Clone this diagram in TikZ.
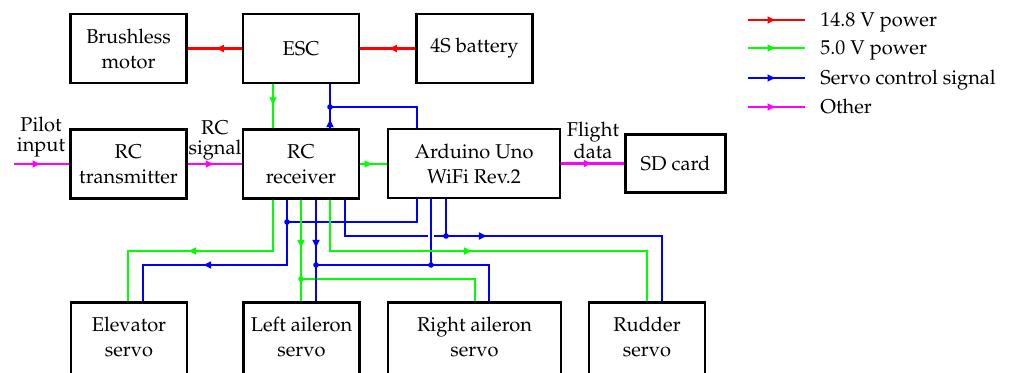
\documentclass[tikz,border=0pt]{standalone}
\usepackage[T1]{fontenc}
\usepackage{mathpazo}
\usetikzlibrary{arrows.meta,decorations.markings}
\definecolor{cred}{RGB}{255,0,0}
\definecolor{cgreen}{RGB}{0,255,0}
\definecolor{cblue}{RGB}{0,0,255}
\definecolor{cmag}{RGB}{255,0,255}
\newcommand{\lowpad}{\rule[-3.5pt]{0pt}{0pt}}
\begin{document}
\begin{tikzpicture}[x=0.5pt,y=-0.5pt,
  box/.style={draw=black,line width=1.45pt,align=center,minimum width=58pt,minimum height=34.5pt,inner sep=2pt,font=\fontsize{10}{12.5}\selectfont},
  servobox/.style={box,minimum height=38pt},
  wire/.style={line width=1.4pt},
  rp/.style={wire,draw=cred},
  gp/.style={wire,draw=cgreen},
  bs/.style={wire,draw=cblue},
  ot/.style={wire,draw=cmag},
  arrowat/.style={postaction={decorate,decoration={markings,mark=at position #1 with {\arrow{Latex[length=4.5pt,width=4pt]}}}}},
  lbl/.style={align=center,inner sep=0pt,font=\fontsize{10}{10}\selectfont},
  legtext/.style={anchor=base west,inner sep=0pt,font=\fontsize{10}{12}\selectfont}]
\useasboundingbox (0,0) rectangle (1009,372);

% boxes
\node[box] (motor) at (128.5,48.5) {Brushless\\motor};
\node[box] (esc) at (301,48.5) {ESC};
\node[box] (bat) at (474.5,48.5) {4S battery};
\node[box] (tx) at (128.5,164) {RC\\transmitter};
\node[box] (rx) at (301,164) {RC\\receiver};
\node[box,minimum width=86pt] (ard) at (474,163.5) {Arduino Uno\\WiFi Rev.2};
\node[box,minimum width=50pt,minimum height=29pt] (sd) at (675.5,163.5) {SD card};
\node[servobox] (elev) at (129,340.5) {Elevator\\servo\lowpad};
\node[servobox] (lail) at (301.5,340.5) {Left aileron\\servo\lowpad};
\node[servobox,minimum width=86.5pt] (rail) at (474.5,340.5) {Right aileron\\servo\lowpad};
\node[servobox] (rud) at (647,340.5) {Rudder\\servo\lowpad};

% labels
\node[lbl] (pil) at (41,137.5) {Pilot\\input};
\node[lbl] (rcs) at (215,140) {RC\\signal};
\node[lbl] (fd) at (593,140) {Flight\\data};

% x positions
\foreach \xx in {128,143,273,287,301,316,330,345,417,431,446,475,489,647,662}
  \coordinate (x\xx) at (\xx,0);
% junctions and corners
\coordinate (pin) at (14,164);
\coordinate (j1) at (330,107);
\coordinate (j2) at (287,222);
\coordinate (j3) at (301,279);
\coordinate (j4) at (316,265);
\coordinate (j5) at (431,265);
\coordinate (j6) at (446,236);
\coordinate (eg) at (128,251);
\coordinate (eb) at (143,265);
\coordinate (rg) at (647,251);
\coordinate (rb) at (662,236);

% top connectors
\draw[rp,arrowat=0.5] (bat.west) -- (esc.east);
\draw[rp,arrowat=0.5] (esc.west) -- (motor.east);
\draw[gp,arrowat=0.5] (x273 |- esc.south) -- (x273 |- rx.north);
\draw[bs,arrowat=5pt] (x330 |- rx.north) -- (j1) -- (x330 |- esc.south);
\draw[bs] (x417 |- ard.north) |- (j1);
\draw[gp,arrowat=0.5] (rx.east) -- (rx.east -| ard.west);
\draw[ot,arrowat=0.5] (pin) -- (tx.west);
\draw[ot,arrowat=0.5] (tx.east) -- (rx.west);
\draw[ot,arrowat=0.5] (ard.east) -- (sd.west);

% bottom connectors
\draw[gp,arrowat=68.5pt] (x273 |- rx.south) |- (eg) -- (x128 |- elev.north);
\draw[bs,arrowat=75pt] (x287 |- rx.south) |- (eb) -- (x143 |- elev.north);
\draw[bs] (x417 |- ard.south) |- (j2);
\draw[gp,arrowat=24.5pt] (x301 |- rx.south) -- (x301 |- lail.north);
\draw[gp] (j3) -| (x475 |- rail.north);
\draw[bs,arrowat=24.5pt] (x316 |- rx.south) -- (x316 |- lail.north);
\draw[bs] (j4) -| (x489 |- rail.north);
\draw[bs,arrowat=89.5pt] (x345 |- rx.south) |- (rb) -- (x662 |- rud.north);
\draw[bs] (x446 |- ard.south) -- (j6);
\draw[white,line width=3pt] (431,231) -- (431,241);
\draw[bs] (x431 |- ard.south) -- (j5);
\draw[gp,arrowat=97pt] (x330 |- rx.south) |- (rg) -- (x647 |- rud.north);

% junction dots
\foreach \jj/\cc in {j1/cblue,j2/cblue,j3/cgreen,j4/cblue,j5/cblue,j6/cblue}
  \fill[\cc] (\jj) circle (1.4pt);

% legend
\coordinate (la1) at (748,20);  \coordinate (lb1) at (805,20);
\coordinate (la2) at (748,48);  \coordinate (lb2) at (805,48);
\coordinate (la3) at (748,78);  \coordinate (lb3) at (805,78);
\coordinate (la4) at (748,107); \coordinate (lb4) at (805,107);
\draw[rp,arrowat=0.5] (la1) -- (lb1);
\draw[gp,arrowat=0.5] (la2) -- (lb2);
\draw[bs,arrowat=0.5] (la3) -- (lb3);
\draw[ot,arrowat=0.5] (la4) -- (lb4);
\node[legtext] (lt1) at (820,26.5) {14.8 V power};
\node[legtext] (lt2) at (820,54.5) {5.0 V power};
\node[legtext] (lt3) at (820,84.5) {Servo control signal};
\node[legtext] (lt4) at (820,113.5) {Other};
\end{tikzpicture}
\end{document}
